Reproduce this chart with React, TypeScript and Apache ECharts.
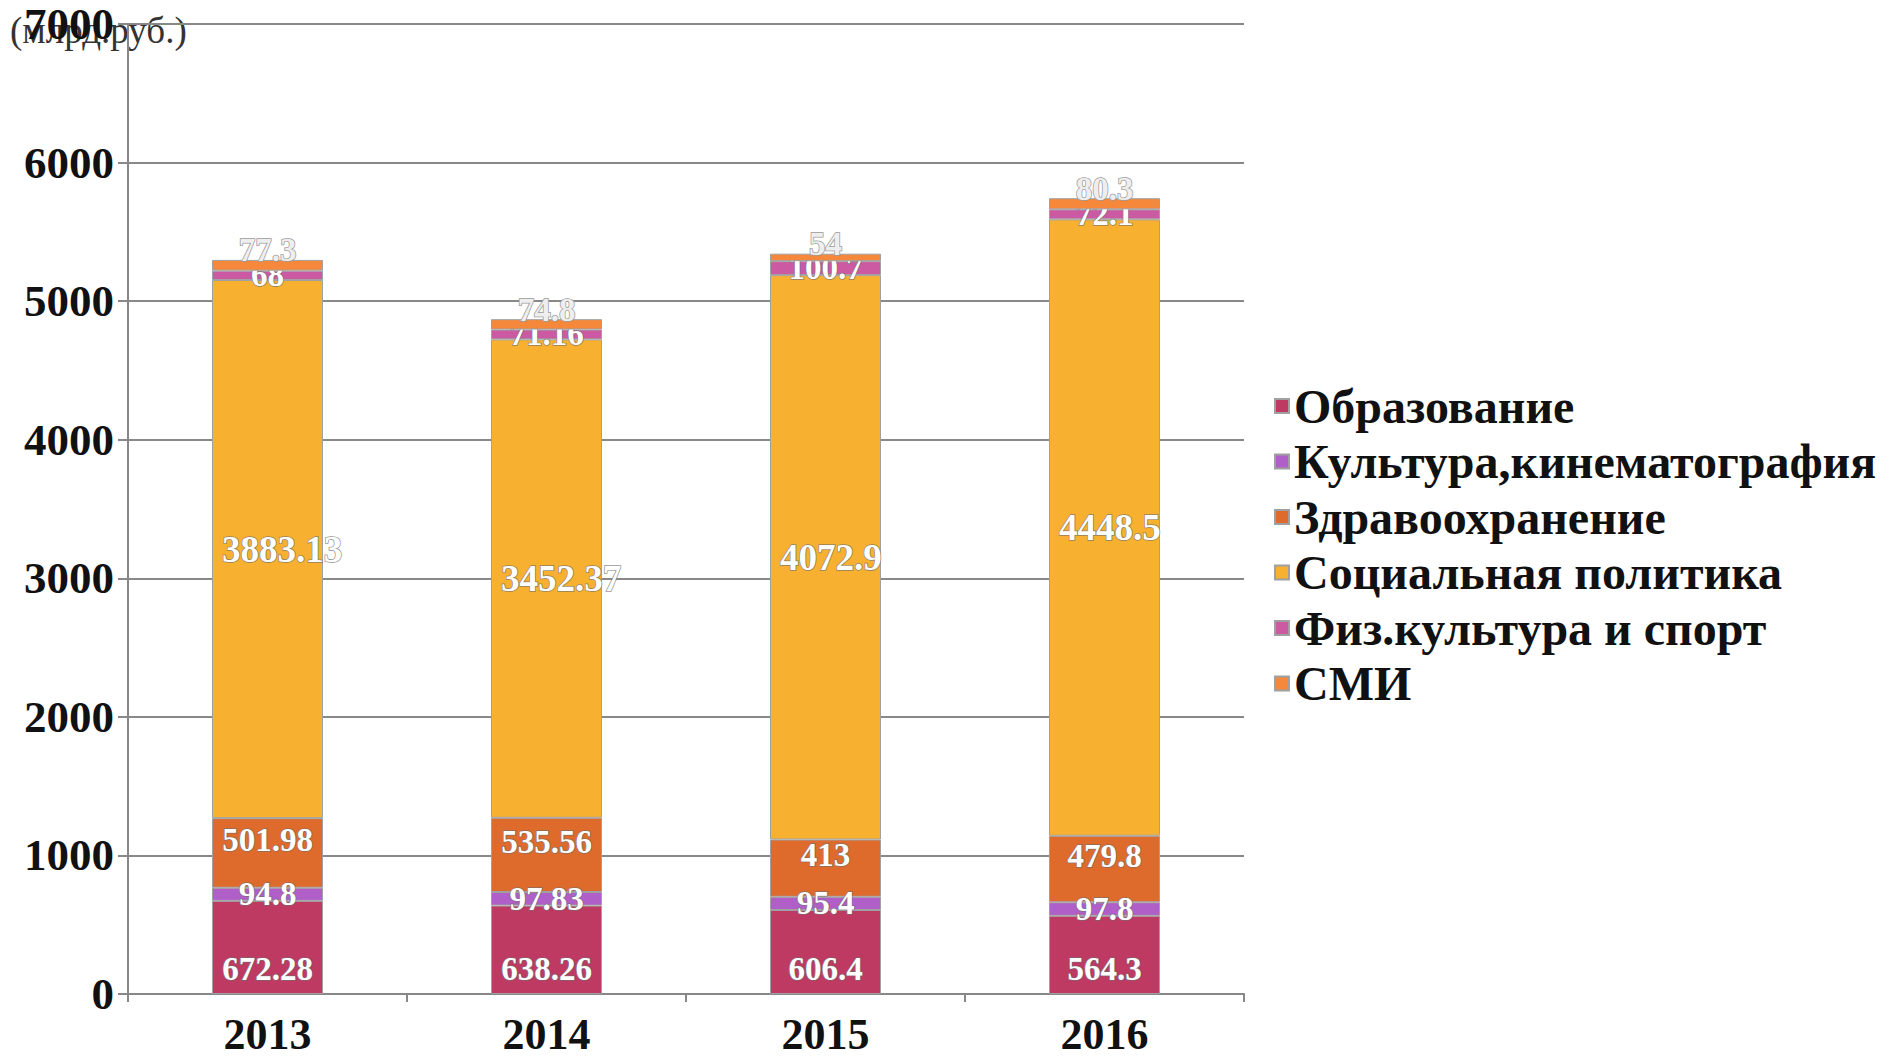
import React, { useEffect, useRef } from "react";
import * as echarts from "echarts";

const years = ["2013", "2014", "2015", "2016"];
const yTicks = [0, 1000, 2000, 3000, 4000, 5000, 6000, 7000];
const unitLabel = "(млрд.руб.)";

const seriesNames = [
  "Образование",
  "Культура,кинематография",
  "Здравоохранение",
  "Социальная политика",
  "Физ.культура и спорт",
  "СМИ",
];
const education = [672.28, 638.26, 606.4, 564.3];
const culture = [94.8, 97.83, 95.4, 97.8];
const health = [501.98, 535.56, 413, 479.8];
const social = [3883.13, 3452.37, 4072.9, 4448.5];
const sport = [68, 71.16, 100.7, 72.1];
const media = [77.3, 74.8, 54, 80.3];

const colors = ["#bf3a63", "#b05ec8", "#de6a2c", "#f7b02f", "#cc5aa3", "#f5883a"];
const FONT = "'Liberation Serif', 'Times New Roman', serif";

export default function App() {
  const ref = useRef<HTMLDivElement>(null);
  useEffect(() => {
    if (!ref.current) return;
    const chart = echarts.init(ref.current, undefined, { renderer: "svg" });
    const data = [education, culture, health, social, sport, media];
    const labelBase = {
      show: true,
      fontFamily: FONT,
      fontWeight: "bold" as const,
      fontSize: 33,
      color: "#ffffff",
      textBorderColor: "rgba(110,110,110,0.75)",
      textBorderWidth: 1.5,
    };
    const labelCfg = [
      { ...labelBase, position: "insideBottom", distance: 9 },
      { ...labelBase, position: "inside" },
      { ...labelBase, position: "inside", offset: [0, -13] },
      { ...labelBase, position: "insideLeft", distance: 10, fontSize: 37 },
      { ...labelBase, position: "inside" },
      {
        ...labelBase,
        position: "top",
        distance: 0,
        offset: [0, 7],
        color: "#eeeeee",
        textBorderColor: "#9a9a9a",
      },
    ];
    chart.setOption({
      animation: false,
      grid: { left: 128, right: 649, top: 24, bottom: 64 },
      legend: {
        orient: "vertical",
        left: 1269,
        top: 377,
        itemWidth: 14,
        itemHeight: 14,
        itemGap: 7.5,
        icon: "rect",
        data: seriesNames,
        textStyle: {
          fontFamily: FONT,
          fontWeight: "bold",
          fontSize: 48,
          lineHeight: 48,
          color: "#111",
        },
      },
      graphic: [
        {
          type: "text",
          left: 10,
          top: 12,
          style: {
            text: unitLabel,
            font: `37px ${FONT}`,
            fill: "#333",
          },
        },
      ],
      xAxis: {
        type: "category",
        data: years,
        axisLine: { lineStyle: { color: "#888", width: 2 } },
        axisTick: { show: true, length: 8, lineStyle: { color: "#888", width: 2 } },
        axisLabel: {
          fontFamily: FONT,
          fontWeight: "bold",
          fontSize: 44,
          lineHeight: 40,
          color: "#111",
          margin: 20,
        },
      },
      yAxis: {
        type: "value",
        min: yTicks[0],
        max: yTicks[yTicks.length - 1],
        interval: 1000,
        axisLine: { show: true, lineStyle: { color: "#888", width: 2 } },
        axisTick: { show: true, length: 10, lineStyle: { color: "#888", width: 2 } },
        splitLine: { lineStyle: { color: "#888", width: 2 } },
        axisLabel: {
          fontFamily: FONT,
          fontWeight: "bold",
          fontSize: 45,
          color: "#111",
          margin: 14,
          formatter: (v: number) => String(v),
        },
      },
      series: seriesNames.map((name, i) => ({
        name,
        type: "bar",
        stack: "total",
        barWidth: 111,
        data: data[i],
        itemStyle: { color: colors[i], borderColor: "#a0a0a0", borderWidth: 1 },
        label: labelCfg[i],
        z: i === 5 ? 3 : 2,
      })),
    });
    return () => chart.dispose();
  }, []);
  return (
    <div
      ref={ref}
      style={{ position: "absolute", left: 0, top: 0, width: 1893, height: 1058 }}
    />
  );
}
